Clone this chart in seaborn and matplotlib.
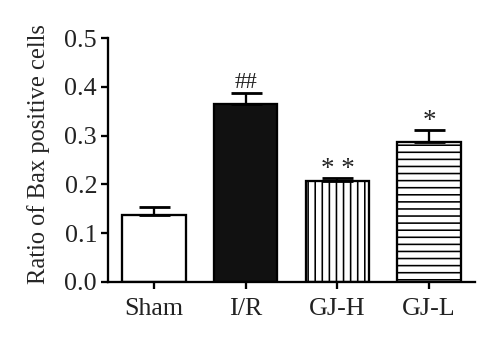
import numpy as np
import matplotlib
matplotlib.use("Agg")
import matplotlib.pyplot as plt
import seaborn as sns
import pandas as pd

# Group means and upper SEM of Bax-positive cell ratio
groups = ["Sham", "I/R", "GJ-H", "GJ-L"]
ratio = [0.137, 0.365, 0.206, 0.287]
sem = [0.016, 0.023, 0.007, 0.024]
marks = ["", "##", "* *", "*"]
y_ticks = [0.0, 0.1, 0.2, 0.3, 0.4, 0.5]

DPI = 85


def px(v):
    """pixels -> points at the figure dpi"""
    return v * 72.0 / DPI


sns.set_theme(style="ticks")
plt.rcParams["font.family"] = ["Liberation Serif", "DejaVu Serif"]
plt.rcParams["hatch.linewidth"] = px(1.6)
plt.rcParams["hatch.color"] = "black"

fig = plt.figure(figsize=(500 / DPI, 346 / DPI), dpi=DPI)
ax = fig.add_axes([0.216, 0.185, 0.734, 0.705])

df = pd.DataFrame({"group": groups, "ratio": ratio})
sns.barplot(
    data=df, x="group", y="ratio", hue="group",
    palette=["white", "#111111", "white", "white"],
    width=0.69, edgecolor="black", linewidth=px(2.3),
    errorbar=None, legend=False, ax=ax,
)

hatches = ["", "", "||", "--"]
for patch, h in zip(ax.patches, hatches):
    patch.set_hatch(h)

ax.errorbar(
    np.arange(len(groups)), ratio,
    yerr=[np.zeros(len(groups)), sem],
    fmt="none", ecolor="black", elinewidth=px(2.3),
    capsize=px(15.5), capthick=px(2.8), zorder=5,
)

# significance marks above the error-bar caps
for i, (v, e, m) in enumerate(zip(ratio, sem, marks)):
    if not m:
        continue
    if "#" in m:
        off, fs = 5, 23
    else:
        off, fs = 2, 27
    ax.annotate(m, (i, v + e), xytext=(0, px(off)), textcoords="offset points",
                ha="center", va="baseline", fontsize=px(fs), color="#222222")

ax.set_xlim(-0.5, 3.5)
ax.set_ylim(0, 0.5)
ax.set_yticks(y_ticks)
ax.set_yticklabels([f"{t:.1f}" for t in y_ticks])
ax.set_xlabel("")
ax.set_ylabel("Ratio of Bax positive cells", fontsize=px(24.5), labelpad=px(14))
ax.yaxis.label.set_y(0.525)

for side in ("top", "right"):
    ax.spines[side].set_visible(False)
for side in ("left", "bottom"):
    ax.spines[side].set_linewidth(px(2.3))
    ax.spines[side].set_color("black")

ax.tick_params(axis="both", width=px(2.3), length=px(7), color="black",
               labelsize=px(26), labelcolor="#222222")
ax.tick_params(axis="y", pad=px(4))
ax.tick_params(axis="x", pad=px(9))

fig.savefig("out.png", dpi=DPI, facecolor="white")
